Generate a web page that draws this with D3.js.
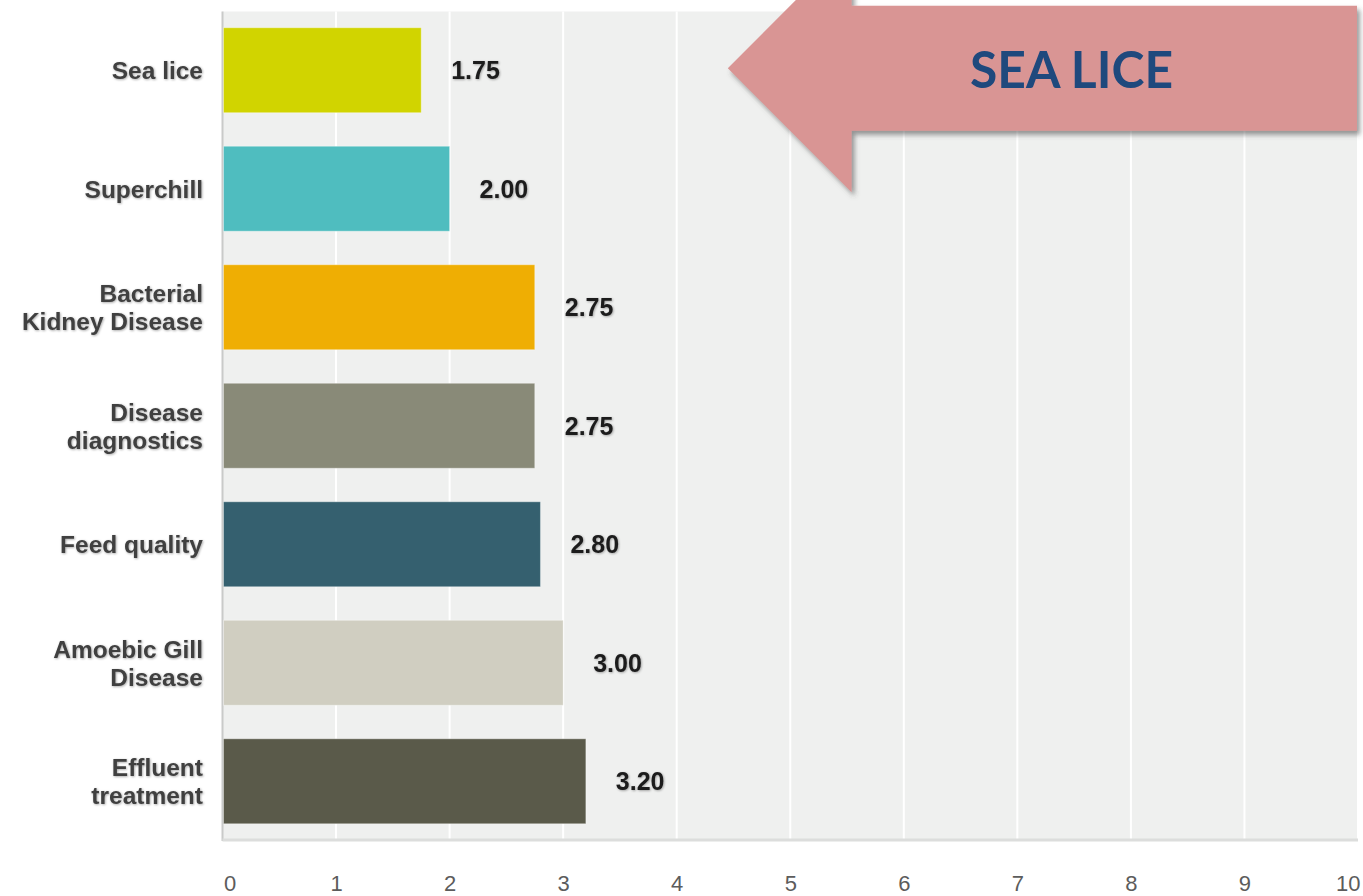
<!DOCTYPE html>
<html>
<head>
<meta charset="utf-8">
<script src="https://cdn.jsdelivr.net/npm/d3@7/dist/d3.min.js"></script>
<style>
  html, body { margin: 0; padding: 0; background: #ffffff; }
  svg { display: block; }
</style>
</head>
<body>
<svg id="chart" width="1363" height="896"></svg>
<script>
// Issue categories (top to bottom), each label split into its drawn lines
const categories = [
  "Sea lice",
  "Superchill",
  "Bacterial Kidney Disease",
  "Disease diagnostics",
  "Feed quality",
  "Amoebic Gill Disease",
  "Effluent treatment"
];
const categoryLines = [
  ["Sea lice"],
  ["Superchill"],
  ["Bacterial", "Kidney Disease"],
  ["Disease", "diagnostics"],
  ["Feed quality"],
  ["Amoebic Gill", "Disease"],
  ["Effluent", "treatment"]
];
// Average ranking score for each category
const scores = [1.75, 2.00, 2.75, 2.75, 2.80, 3.00, 3.20];
const barColors = ["#d1d400", "#4fbdbf", "#efae03", "#898a78", "#35606f", "#d0cec1", "#5a5a4a"];
const xTicks = [0, 1, 2, 3, 4, 5, 6, 7, 8, 9, 10];
const calloutText = "SEA LICE";

const svg = d3.select("#chart");
const plot = { left: 222.5, right: 1358, top: 11.5, bottom: 840 };

const x = d3.scaleLinear().domain([0, 10]).range([plot.left, plot.right]);
const y = d3.scaleBand().domain(categories)
  .range([plot.top, plot.bottom])
  .paddingInner(0.283).paddingOuter(0.137);

const defs = svg.append("defs");
const shadow = defs.append("filter").attr("id", "arrowShadow")
  .attr("x", "-10%").attr("y", "-10%").attr("width", "130%").attr("height", "130%");
shadow.append("feDropShadow").attr("dx", 3).attr("dy", 4)
  .attr("stdDeviation", 2.5).attr("flood-color", "#4a4a4a").attr("flood-opacity", 0.55);
const textGlow = defs.append("filter").attr("id", "textGlow")
  .attr("x", "-5%").attr("y", "-20%").attr("width", "110%").attr("height", "140%");
textGlow.append("feDropShadow").attr("dx", 0.8).attr("dy", 0.8)
  .attr("stdDeviation", 0.9).attr("flood-color", "#000").attr("flood-opacity", 0.35);

// Plot background
svg.append("rect")
  .attr("x", plot.left).attr("y", plot.top)
  .attr("width", plot.right - plot.left).attr("height", plot.bottom - plot.top)
  .attr("fill", "#eff0ef");

// Vertical gridlines
svg.append("g").selectAll("line").data(xTicks.slice(1)).join("line")
  .attr("x1", d => x(d)).attr("x2", d => x(d))
  .attr("y1", plot.top).attr("y2", plot.bottom)
  .attr("stroke", "#ffffff").attr("stroke-width", 2);

// Left axis line and bottom rule
svg.append("line")
  .attr("x1", plot.left).attr("x2", plot.left)
  .attr("y1", plot.top).attr("y2", plot.bottom + 1)
  .attr("stroke", "#c9cac9").attr("stroke-width", 2);
svg.append("line")
  .attr("x1", plot.left).attr("x2", plot.right)
  .attr("y1", plot.bottom).attr("y2", plot.bottom)
  .attr("stroke", "#dcdddc").attr("stroke-width", 3);

// Bars
svg.append("g").selectAll("rect").data(categories).join("rect")
  .attr("x", x(0) + 1)
  .attr("y", d => y(d))
  .attr("width", (d, i) => x(scores[i]) - x(0) - 1)
  .attr("height", y.bandwidth())
  .attr("fill", (d, i) => barColors[i])
  .attr("stroke", "rgba(255,255,255,0.35)").attr("stroke-width", 1);

// Value labels
svg.append("g").selectAll("text").data(categories).join("text")
  .attr("x", (d, i) => x(scores[i]) + 30)
  .attr("y", d => y(d) + y.bandwidth() / 2)
  .attr("dy", "0.36em")
  .attr("font-family", "'Liberation Sans', Arial, sans-serif")
  .attr("font-weight", "bold")
  .attr("font-size", 25)
  .attr("fill", "#1b1b1b")
  .attr("filter", "url(#textGlow)")
  .text((d, i) => scores[i].toFixed(2));

// Category labels
const catG = svg.append("g")
  .attr("font-family", "'Liberation Sans', Arial, sans-serif")
  .attr("font-weight", "bold")
  .attr("font-size", 24.5)
  .attr("fill", "#404040")
  .attr("text-anchor", "end")
  .attr("filter", "url(#textGlow)");
categories.forEach((c, i) => {
  const lines = categoryLines[i];
  const cy = y(c) + y.bandwidth() / 2;
  const lh = 28;
  const t = catG.append("text").attr("x", 203).attr("y", cy);
  lines.forEach((ln, j) => {
    t.append("tspan")
      .attr("x", 203)
      .attr("y", cy + (j - (lines.length - 1) / 2) * lh)
      .attr("dy", "0.36em")
      .text(ln);
  });
});

// X axis tick labels
const xAxis = d3.axisBottom(x).tickValues(xTicks).tickSize(0).tickPadding(0);
const axG = svg.append("g").attr("transform", `translate(0, ${plot.bottom})`).call(xAxis);
axG.select(".domain").remove();
axG.selectAll("text")
  .attr("y", 51)
  .attr("dy", 0)
  .attr("font-family", "'Liberation Sans', Arial, sans-serif")
  .attr("font-size", 22)
  .attr("fill", "#5c5c5c")
  .attr("text-anchor", d => d === xTicks[0] ? "start" : (d === xTicks[xTicks.length - 1] ? "end" : "middle"))
  .attr("dx", d => d === xTicks[0] ? 1 : (d === xTicks[xTicks.length - 1] ? 2 : 0));

// Callout arrow pointing back at the first category
const tipY = y(categories[0]) + y.bandwidth() / 2 - 2;
const tipX = x(4.45);
const neckX = x(5.54);
const tailX = plot.right - 1;
const shaftHalf = 62.5, headHalf = 124;
const arrowPath = d3.path();
arrowPath.moveTo(tipX, tipY);
arrowPath.lineTo(neckX, tipY - headHalf);
arrowPath.lineTo(neckX, tipY - shaftHalf);
arrowPath.lineTo(tailX, tipY - shaftHalf);
arrowPath.lineTo(tailX, tipY + shaftHalf);
arrowPath.lineTo(neckX, tipY + shaftHalf);
arrowPath.lineTo(neckX, tipY + headHalf);
arrowPath.closePath();
svg.append("path")
  .attr("d", arrowPath.toString())
  .attr("fill", "#d99594")
  .attr("filter", "url(#arrowShadow)");

svg.append("text")
  .attr("x", 970).attr("y", tipY + 20)
  .attr("font-family", "Lato, 'Open Sans', sans-serif")
  .attr("font-weight", "bold")
  .attr("font-size", 52)
  .attr("fill", "#1f497d")
  .attr("textLength", 203)
  .attr("lengthAdjust", "spacingAndGlyphs")
  .text(calloutText);
</script>
</body>
</html>
